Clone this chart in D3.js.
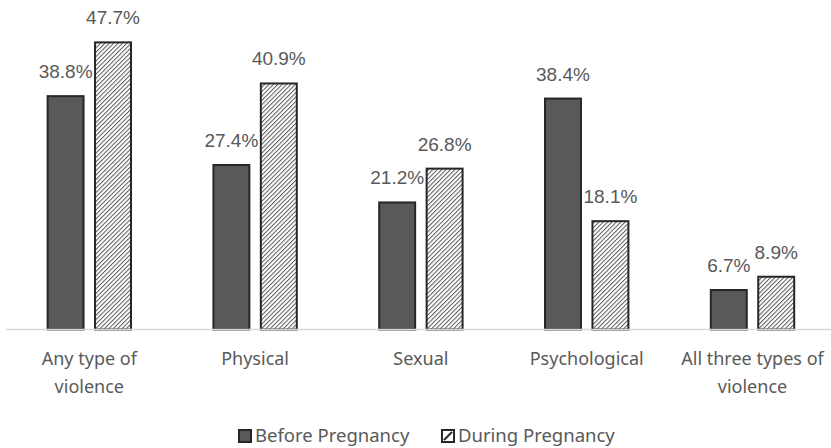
<!DOCTYPE html>
<html>
<head>
<meta charset="utf-8">
<script src="https://cdn.jsdelivr.net/npm/d3@7"></script>
<style>
  body { margin: 0; background: #fff; }
  svg { display: block; }
</style>
</head>
<body>
<script>
var width = 831, height = 448

var categories = [["Any type of", "violence"], ["Physical"], ["Sexual"], ["Psychological"], ["All three types of", "violence"]]
var seriesNames = ["Before Pregnancy", "During Pregnancy"]
var beforeValues = [38.8, 27.4, 21.2, 38.4, 6.7]
var duringValues = [47.7, 40.9, 26.8, 18.1, 8.9]

var grey = "#595959", edge = "#262626"

var svg = d3.select("body").append("svg")
    .attr("width", width)
    .attr("height", height)

// hatch for the second series
var defs = svg.append("defs")
var hatch = defs.append("pattern")
    .attr("id", "hatch")
    .attr("patternUnits", "userSpaceOnUse")
    .attr("width", 3.1)
    .attr("height", 3.1)
    .attr("patternTransform", "rotate(45)")
hatch.append("rect").attr("width", 3.1).attr("height", 3.1).attr("fill", "#fff")
hatch.append("line")
    .attr("x1", 0.5).attr("y1", 0).attr("x2", 0.5).attr("y2", 3.1)
    .attr("stroke", grey).attr("stroke-width", 1)

var x0 = d3.scaleBand()
    .domain(d3.range(categories.length))
    .range([6.4, 835.4])
    .paddingInner(0.485)
    .paddingOuter(0.2425)

var x1 = d3.scaleBand()
    .domain([0, 1])
    .range([0, x0.bandwidth()])
    .paddingInner(0.2)

var y = d3.scaleLinear()
    .domain([0, 50])
    .range([329.5, 27.5])

var rows = categories.map(function(c, i) {
  return {i: i, vals: [beforeValues[i], duringValues[i]]}
})

var groups = svg.selectAll("g.cat")
    .data(rows)
    .enter().append("g")
    .attr("class", "cat")
    .attr("transform", function(d) { return "translate(" + x0(d.i) + ",0)" })

groups.selectAll("rect")
    .data(function(d) { return d.vals.map(function(v, s) { return {s: s, v: v} }) })
    .enter().append("rect")
    .attr("x", function(d) { return x1(d.s) + 1 })
    .attr("y", function(d) { return y(d.v) + 1 })
    .attr("width", x1.bandwidth() - 2)
    .attr("height", function(d) { return y(0) - y(d.v) - 1 })
    .attr("fill", function(d) { return d.s == 0 ? grey : "url(#hatch)" })
    .attr("stroke", edge)
    .attr("stroke-width", 2)

groups.selectAll("text.val")
    .data(function(d) { return d.vals.map(function(v, s) { return {s: s, v: v} }) })
    .enter().append("text")
    .attr("class", "val")
    .attr("x", function(d) { return x1(d.s) + x1.bandwidth() / 2 })
    .attr("y", function(d) { return y(d.v) - 17 })
    .attr("text-anchor", "middle")
    .attr("font-family", "'Liberation Sans', Arial, sans-serif")
    .attr("font-size", 19)
    .attr("fill", grey)
    .text(function(d) { return d.v.toFixed(1) + "%" })

// baseline
svg.append("line")
    .attr("x1", 6).attr("x2", width)
    .attr("y1", y(0)).attr("y2", y(0))
    .attr("stroke", "#d9d9d9")
    .attr("stroke-width", 1.5)

// category labels
var catText = svg.selectAll("text.cat")
    .data(rows)
    .enter().append("text")
    .attr("class", "cat")
    .attr("text-anchor", "middle")
    .attr("font-family", "'Noto Sans', sans-serif")
    .attr("font-size", 18)
    .attr("fill", grey)

catText.selectAll("tspan")
    .data(function(d) { return categories[d.i].map(function(t, k) { return {t: t, k: k, i: d.i} }) })
    .enter().append("tspan")
    .attr("x", function(d) { return x0(d.i) + x0.bandwidth() / 2 })
    .attr("y", function(d) { return 365 + d.k * 28 })
    .text(function(d) { return d.t })

// legend
var legendX = [238, 441]
var legend = svg.selectAll("g.legend")
    .data(seriesNames)
    .enter().append("g")
    .attr("class", "legend")
    .attr("transform", function(d, i) { return "translate(" + legendX[i] + ",429)" })

legend.append("rect")
    .attr("x", 1).attr("y", 1)
    .attr("width", 12).attr("height", 12)
    .attr("fill", function(d, i) { return i == 0 ? grey : "#fff" })
    .attr("stroke", edge)
    .attr("stroke-width", 2)

legend.filter(function(d, i) { return i == 1 })
  .append("line")
    .attr("x1", 3).attr("y1", 11).attr("x2", 11).attr("y2", 3)
    .attr("stroke", edge)
    .attr("stroke-width", 2)

legend.append("text")
    .attr("x", 17)
    .attr("y", 13)
    .attr("font-family", "'Noto Sans', sans-serif")
    .attr("font-size", 18.5)
    .attr("fill", grey)
    .text(function(d) { return d })
</script>
</body>
</html>
